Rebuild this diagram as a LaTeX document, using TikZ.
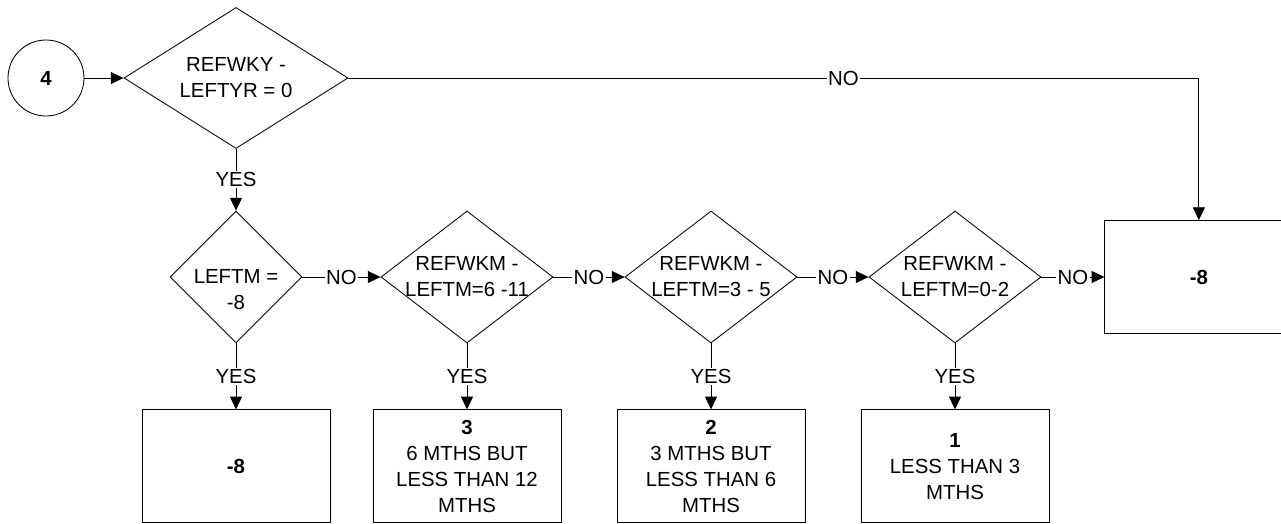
\documentclass[tikz,border=0pt]{standalone}
\usepackage{fontspec}
\setmainfont{Liberation Sans}
\usetikzlibrary{arrows.meta,positioning,shapes.geometric}
\tikzset{
  base/.style={font=\fontsize{14.5pt}{18.6pt}\selectfont, align=center},
  conn/.style={circle, draw, line width=0.6pt, minimum size=1.9cm, inner sep=0pt,
               align=center, font=\fontsize{14.5pt}{18.6pt}\selectfont\bfseries},
  dia/.style={diamond, draw, line width=0.6pt, inner sep=0pt,
              minimum width=4.3cm, minimum height=3.3cm},
  dtxt/.style={base, inner sep=0pt},
  res/.style={rectangle, draw, line width=0.6pt, base, inner sep=2pt,
              minimum width=4.7cm, minimum height=2.825cm},
  fl/.style={-{Triangle[length=3.2mm,width=3mm]}, line width=0.6pt},
  lbl/.style={base, fill=white, inner sep=1pt},
}
\begin{document}
\begin{tikzpicture}
\useasboundingbox (0,0) rectangle (32.025,-13.075);
\node[conn] (c4) at (1.15,-1.95) {4};
\node[dia, minimum width=5.6cm, minimum height=3.525cm] (q1) at (5.9,-1.95) {};
\node[dtxt] (q1t) at (q1) {REFWKY -\\LEFTYR = 0};
\node[dia, minimum width=3.3cm] (q2) at (5.9,-6.925) {};
\node[dtxt, yshift=-0.325cm] (q2t) at (q2) {LEFTM =\\-8};
\node[dia] (q3) at (11.675,-6.925) {};
\node[dtxt] (q3t) at (q3) {REFWKM -\\LEFTM=6 -11};
\node[dia] (q4) at (17.775,-6.925) {};
\node[dtxt] (q4t) at (q4) {REFWKM -\\LEFTM=3 - 5};
\node[dia] (q5) at (23.875,-6.925) {};
\node[dtxt] (q5t) at (q5) {REFWKM -\\LEFTM=0-2};
\node[res, right=1.575cm of q5] (r8) {\textbf{-8}};
\node[res, below=1.65cm of q2] (b8) {\textbf{-8}};
\node[res, below=1.65cm of q3] (b3) {\textbf{3}\\6 MTHS BUT\\LESS THAN 12\\MTHS};
\node[res, below=1.65cm of q4] (b2) {\textbf{2}\\3 MTHS BUT\\LESS THAN 6\\MTHS};
\node[res, below=1.65cm of q5] (b1) {\textbf{1}\\LESS THAN 3\\MTHS};
\draw[fl] (c4) -- (q1);
\draw[fl] (q1) -- node[lbl]{YES} (q2);
\draw[fl] (q1.east) -| node[lbl, pos=0.291]{NO} (r8.north);
\draw[fl] (q2) -- node[lbl]{NO} (q3);
\draw[fl] (q3) -- node[lbl]{NO} (q4);
\draw[fl] (q4) -- node[lbl]{NO} (q5);
\draw[fl] (q5) -- node[lbl]{NO} (r8);
\draw[fl] (q2) -- node[lbl]{YES} (b8);
\draw[fl] (q3) -- node[lbl]{YES} (b3);
\draw[fl] (q4) -- node[lbl]{YES} (b2);
\draw[fl] (q5) -- node[lbl]{YES} (b1);
\end{tikzpicture}
\end{document}
